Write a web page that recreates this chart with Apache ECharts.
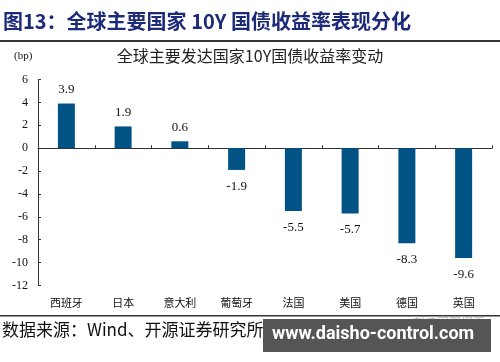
<!DOCTYPE html>
<html><head><meta charset="utf-8">
<script src="https://cdn.jsdelivr.net/npm/echarts@6/dist/echarts.min.js"></script>
<style>html,body{margin:0;padding:0;background:#fff}#c{width:500px;height:362px}</style>
</head><body><div id="c"></div>
<script>
var categories = ['西班牙','日本','意大利','葡萄牙','法国','美国','德国','英国'];
var values = [3.9, 1.9, 0.6, -1.9, -5.5, -5.7, -8.3, -9.6];
var yTicks = {min: -12, max: 6, interval: 2};
var figTitle = '图13：全球主要国家 10Y 国债收益率表现分化';
var chartTitle = '全球主要发达国家10Y国债收益率变动';
var unitLabel = '(bp)';
var sourceText = '数据来源：Wind、开源证券研究所';

var serif = '"Liberation Serif","Noto Sans CJK SC",serif';
var cjk = '"Noto Sans CJK SC","Liberation Serif",sans-serif';
var chart = echarts.init(document.getElementById('c'), null, {renderer: 'canvas'});
chart.setOption({
  animation: false,
  backgroundColor: '#fff',
  grid: {left: 38, right: 8, top: 79.5, bottom: 76.5},
  xAxis: [{
    type: 'category', data: categories, position: 'bottom',
    axisLine: {onZero: true, lineStyle: {color: '#333', width: 1}},
    axisTick: {show: true, inside: true, length: 3, lineStyle: {color: '#333'}},
    axisLabel: {show: false}, splitLine: {show: false}
  }, {
    type: 'category', data: categories, position: 'bottom', gridIndex: 0,
    axisLine: {show: false, onZero: false}, axisTick: {show: false},
    axisLabel: {show: true, margin: 12, fontSize: 11, color: '#111', fontFamily: cjk}
  }],
  yAxis: {
    type: 'value', min: yTicks.min, max: yTicks.max, interval: yTicks.interval,
    axisLine: {show: true, lineStyle: {color: '#333'}},
    axisTick: {show: true, inside: true, length: 3, lineStyle: {color: '#333'}},
    axisLabel: {margin: 10, fontSize: 12, color: '#111', fontFamily: serif},
    splitLine: {show: false}
  },
  series: [{
    type: 'bar', xAxisIndex: 0, barWidth: 17,
    itemStyle: {color: '#005384'},
    data: values.map(function (v) {
      return {value: v, label: {show: true, position: v >= 0 ? 'top' : 'bottom', distance: v >= 0 ? 7 : 10}};
    }),
    label: {show: true, fontSize: 13, color: '#111', fontFamily: serif,
      formatter: function (p) { return p.value.toFixed(1); }}
  }],
  graphic: [
    {type: 'text', left: 3, top: 11, style: {text: figTitle, fontSize: 20, fontWeight: 'bold', fill: '#1d2a7a', fontFamily: '"Noto Sans CJK SC","Liberation Serif",serif'}},
    {type: 'rect', shape: {x: 0, y: 40, width: 500, height: 2}, style: {fill: '#333'}},
    {type: 'text', left: 14, top: 51, style: {text: unitLabel, fontSize: 11, fill: '#111', fontFamily: serif}},
    {type: 'text', left: 'center', top: 48, style: {text: chartTitle, fontSize: 16, fill: '#222', fontFamily: cjk}},
    {type: 'rect', shape: {x: 0, y: 315, width: 500, height: 1.5}, style: {fill: '#333'}},
    {type: 'text', left: 2, top: 321, style: {text: sourceText, fontSize: 17, fill: '#111', fontFamily: cjk}},
    {type: 'text', left: 413, top: 316, style: {text: '赵伟宏观探索', fontSize: 12, fill: '#bbb', fontFamily: cjk}},
    {type: 'rect', shape: {x: 263, y: 319, width: 228, height: 33}, style: {fill: '#555'}},
    {type: 'text', left: 272, top: 325, style: {text: 'www.daisho-control.com', fontSize: 18, fontWeight: 'bold', fill: '#fff', fontFamily: 'Roboto,"Open Sans",sans-serif'}}
  ]
});
</script></body></html>
